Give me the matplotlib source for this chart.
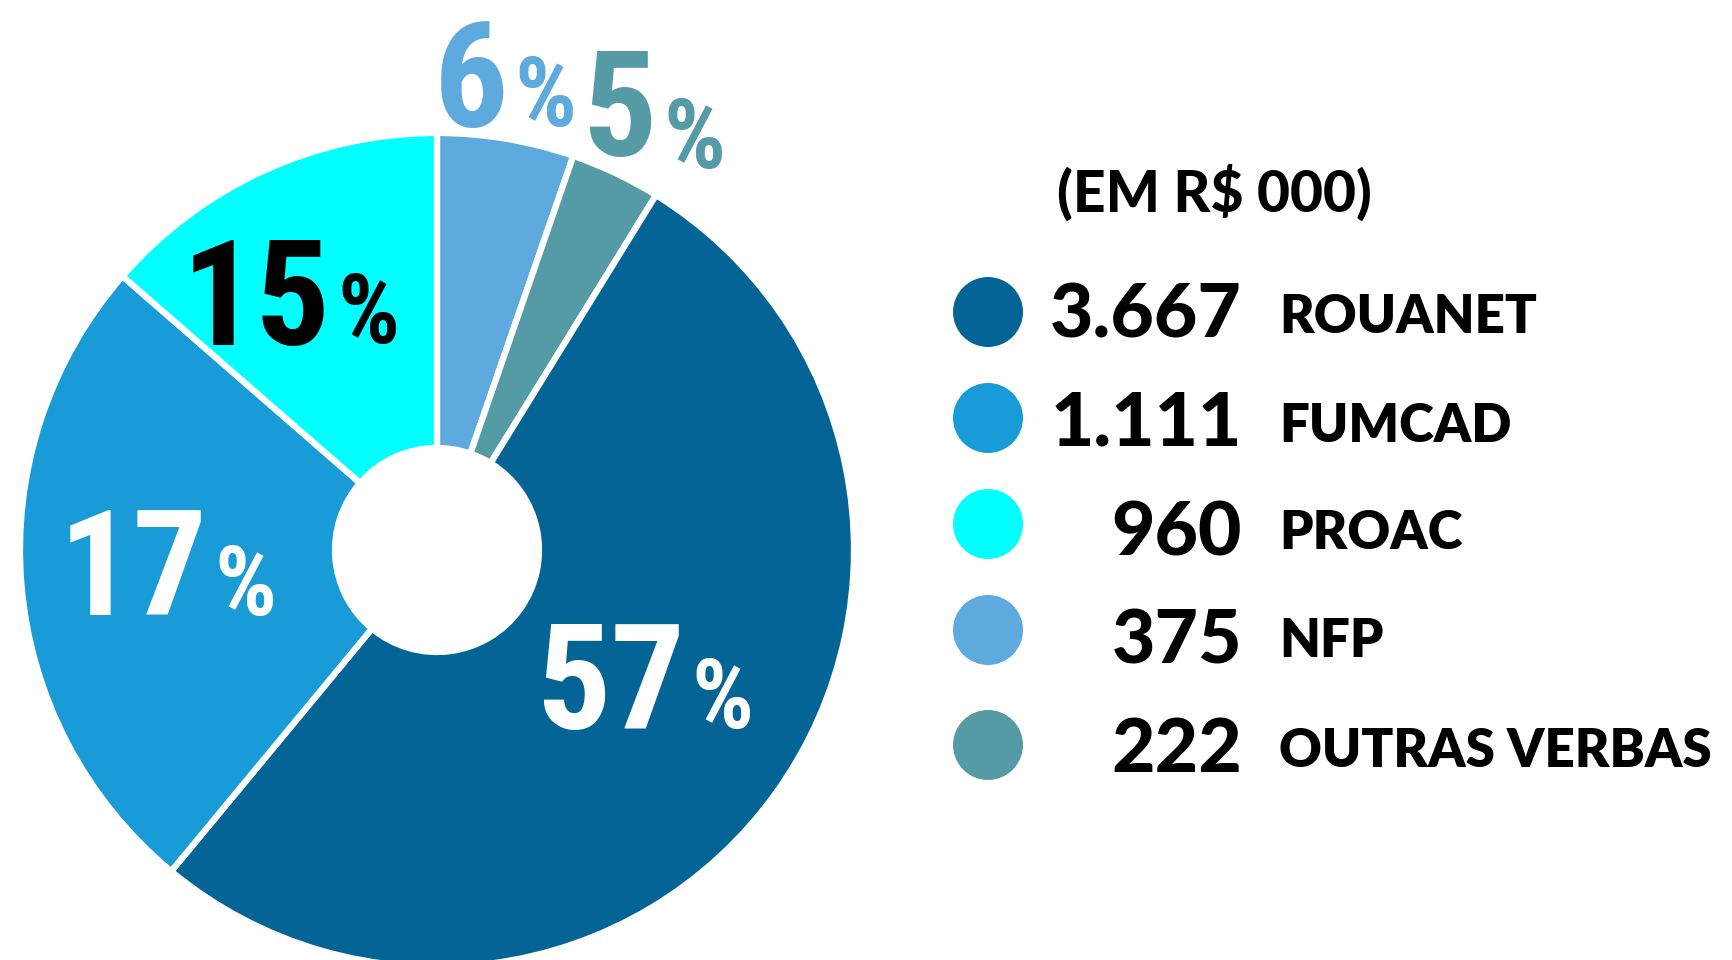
import matplotlib
matplotlib.use("Agg")
import matplotlib.pyplot as plt
from matplotlib import font_manager
from matplotlib.font_manager import FontProperties

# ============================================================
# DATA
# ============================================================
# slice order: clockwise from 12 o'clock
sources = ['NFP', 'OUTRAS VERBAS', 'ROUANET', 'FUMCAD', 'PROAC']
slice_share = [5.3, 3.5, 52.2, 25.4, 13.6]      # share of the circle as drawn
pct_labels = [6, 5, 57, 17, 15]                  # printed percentages
colors = ['#5eaade', '#549ba6', '#046496', '#189bd7', '#00ffff']
pct_colors = ['#5eaade', '#549ba6', 'white', 'white', 'black']

# legend order (R$ thousand)
legend_names = ['ROUANET', 'FUMCAD', 'PROAC', 'NFP', 'OUTRAS VERBAS']
legend_values = [3667, 1111, 960, 375, 222]
legend_colors = ['#046496', '#189bd7', '#00ffff', '#5eaade', '#549ba6']

# ============================================================
# LAYOUT (pixels, y measured from the top)
# ============================================================
W, H = 1733, 960
PIE_CX, PIE_CY, PIE_R, HOLE_R = 437, 550, 417, 102

# junction x between number and "%", digit baseline, "%" baseline
pct_pos = [(511, 127, 126), (660, 156, 168), (688, 729, 728),
           (211, 615, 615), (334, 345, 343)]

DOT_X, DOT_R = 988, 35
row_y = [312, 418, 524, 630, 745]
num_base = [338, 446, 555, 663, 772]
lab_base = [333, 442, 549, 657, 767]
NUM_RIGHT, LAB_LEFT = 1242, 1279

GEO = ['Lato', 'DejaVu Sans']


def pick_condensed():
    # look for a bold condensed face among the installed fonts
    prefer = ['Roboto Condensed', 'Liberation Sans Narrow', 'Open Sans Condensed',
              'Noto Sans Condensed', 'Noto Sans', 'DejaVu Sans Condensed', 'Open Sans']
    found = [f for f in font_manager.fontManager.ttflist
             if f.stretch in ('condensed', 'semi-condensed', 'extra-condensed',
                              'ultra-condensed')
             and isinstance(f.weight, int) and f.weight >= 600
             and 'Italic' not in f.fname and f.style == 'normal']
    found.sort(key=lambda f: (prefer.index(f.name) if f.name in prefer else 99,
                              abs(f.weight - 700)))
    if found:
        return FontProperties(fname=found[0].fname), True
    return FontProperties(family='Roboto', weight='bold'), False


cond_fp, is_cond = pick_condensed()
big, small = (106, 70) if is_cond else (88, 58)

fig = plt.figure(figsize=(W / 100, H / 100), dpi=100)
ax = fig.add_axes([0, 0, 1, 1])

# donut
ax.pie(slice_share, colors=colors, startangle=90, counterclock=False,
       center=(PIE_CX, H - PIE_CY), radius=PIE_R,
       wedgeprops=dict(width=PIE_R - HOLE_R, edgecolor='white', linewidth=4.5))

# percentage labels
for val, col, (jx, by, pby) in zip(pct_labels, pct_colors, pct_pos):
    fp = cond_fp.copy()
    fp.set_size(big)
    ax.text(jx - 3, H - by, str(val), ha='right', va='baseline', color=col,
            fontproperties=fp)
    fp = cond_fp.copy()
    fp.set_size(small)
    ax.text(jx + 3, H - pby, '%', ha='left', va='baseline', color=col,
            fontproperties=fp)

# legend
ax.text(1057, H - 212, '(EM R$ 000)', ha='left', va='baseline', color='black',
        fontsize=41, fontweight='black', family=GEO)

ax.scatter([DOT_X] * len(row_y), [H - y for y in row_y], s=(2 * DOT_R / 1.389) ** 2,
           c=legend_colors, linewidths=0, zorder=3)

for name, v, nb, lb in zip(legend_names, legend_values, num_base, lab_base):
    ax.text(NUM_RIGHT, H - nb, f'{v:,}'.replace(',', '.'), ha='right', va='baseline',
            color='black', fontsize=54, fontweight='black', family=GEO)
    ax.text(LAB_LEFT, H - lb, name, ha='left', va='baseline', color='black',
            fontsize=38, fontweight='heavy', family=GEO)

ax.set_xlim(0, W)
ax.set_ylim(0, H)
ax.set_aspect('equal')
ax.axis('off')

fig.savefig('out.png', dpi=100, facecolor='white')
